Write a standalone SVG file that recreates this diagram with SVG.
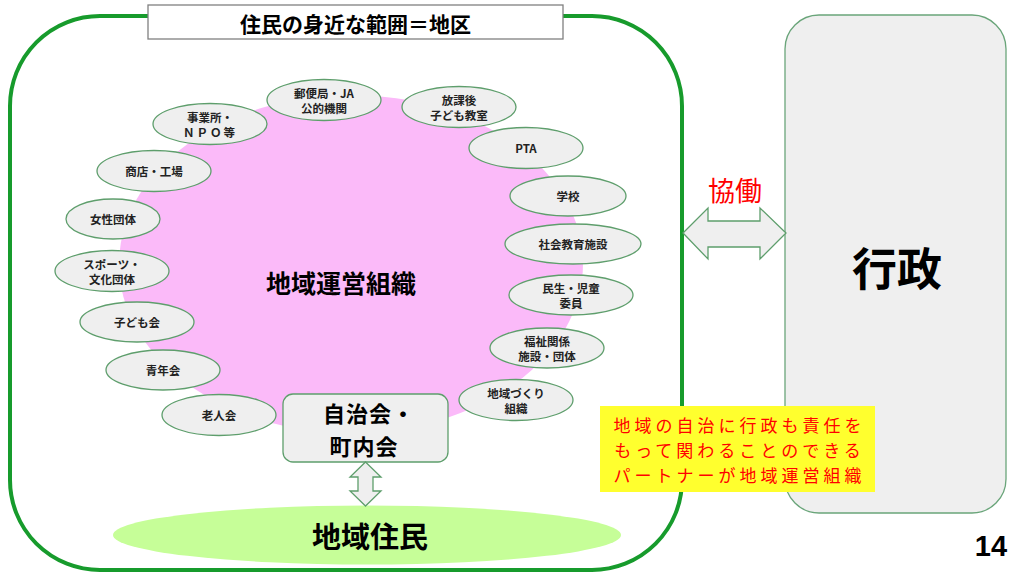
<svg xmlns="http://www.w3.org/2000/svg" width="1024" height="577" viewBox="0 0 1024 577">
<style>
.jp{font-family:"Noto Sans CJK JP","Noto Sans",sans-serif;}
.node ellipse{fill:#efefef;stroke:#5e9e6c;stroke-width:1.3;}
.lbl{font-family:"Noto Sans CJK JP","Noto Sans",sans-serif;font-size:11.5px;font-weight:700;fill:#222;text-anchor:middle;dominant-baseline:central;}
.arrow{fill:#efefef;stroke:#5e9e6c;stroke-width:1.3;}
</style>
<rect width="1024" height="577" fill="#ffffff"/>
<g id="frame">
<rect x="10" y="16" width="672" height="554" rx="90" ry="90" fill="#ffffff" stroke="#179b2c" stroke-width="4"/>
</g>
<g id="title">
<rect x="148" y="5" width="415" height="34" fill="#ffffff" stroke="#808080" stroke-width="1.3"/>
<text x="355.5" y="23" class="jp" font-size="21" font-weight="700" text-anchor="middle" dominant-baseline="central" fill="#000">住民の身近な範囲＝地区</text>
</g>
<g id="chiiki-uneisoshiki">
<ellipse cx="351" cy="264" rx="232" ry="169" fill="#fbbaf9"/>
<text x="341" y="282" class="jp" font-size="25" font-weight="700" text-anchor="middle" dominant-baseline="central" fill="#000">地域運営組織</text>
</g>
<g id="n-yubin" class="node"><ellipse cx="324" cy="100" rx="57" ry="20.5"/><text class="lbl" x="324" y="93">郵便局・JA</text><text class="lbl" x="324" y="108">公的機関</text></g>
<g id="n-jigyosho" class="node"><ellipse cx="210" cy="124" rx="57" ry="20.5"/><text class="lbl" x="210" y="117">事業所・</text><text class="lbl" x="210" y="132" letter-spacing="2">ＮＰＯ等</text></g>
<g id="n-hokago" class="node"><ellipse cx="459" cy="107" rx="57" ry="20.5"/><text class="lbl" x="459" y="100">放課後</text><text class="lbl" x="459" y="115">子ども教室</text></g>
<g id="n-pta" class="node"><ellipse cx="526" cy="148" rx="57" ry="20.5"/><text class="lbl" x="526" y="148">PTA</text></g>
<g id="n-gakko" class="node"><ellipse cx="568" cy="196" rx="58" ry="20"/><text class="lbl" x="568" y="196">学校</text></g>
<g id="n-shakai" class="node"><ellipse cx="573" cy="244" rx="68" ry="20"/><text class="lbl" x="573" y="244">社会教育施設</text></g>
<g id="n-minsei" class="node"><ellipse cx="571" cy="295" rx="62" ry="20"/><text class="lbl" x="571" y="288">民生・児童</text><text class="lbl" x="571" y="303">委員</text></g>
<g id="n-fukushi" class="node"><ellipse cx="547" cy="348" rx="57" ry="20"/><text class="lbl" x="547" y="341">福祉関係</text><text class="lbl" x="547" y="356">施設・団体</text></g>
<g id="n-chiikizukuri" class="node"><ellipse cx="516" cy="400" rx="57" ry="20.5"/><text class="lbl" x="516" y="393">地域づくり</text><text class="lbl" x="516" y="408">組織</text></g>
<g id="n-shoten" class="node"><ellipse cx="154" cy="171" rx="57" ry="20.5"/><text class="lbl" x="154" y="171">商店・工場</text></g>
<g id="n-josei" class="node"><ellipse cx="113" cy="219" rx="47" ry="20"/><text class="lbl" x="113" y="219">女性団体</text></g>
<g id="n-sports" class="node"><ellipse cx="112" cy="271" rx="57" ry="20.5"/><text class="lbl" x="112" y="264">スポーツ・</text><text class="lbl" x="112" y="279">文化団体</text></g>
<g id="n-kodomokai" class="node"><ellipse cx="137" cy="322" rx="57" ry="20"/><text class="lbl" x="137" y="322">子ども会</text></g>
<g id="n-seinen" class="node"><ellipse cx="163" cy="370" rx="57" ry="20"/><text class="lbl" x="163" y="370">青年会</text></g>
<g id="n-rojin" class="node"><ellipse cx="219" cy="415" rx="57" ry="20.5"/><text class="lbl" x="219" y="415">老人会</text></g>
<g id="n-jichikai">
<rect x="283" y="394" width="165" height="68" rx="10" ry="10" fill="#efefef" stroke="#5e9e6c" stroke-width="1.3"/>
<text x="369" y="412" class="jp" font-size="22" font-weight="700" text-anchor="middle" dominant-baseline="central" fill="#000" letter-spacing="1">自治会・</text>
<text x="364" y="444.5" class="jp" font-size="22" font-weight="700" text-anchor="middle" dominant-baseline="central" fill="#000" letter-spacing="1">町内会</text>
</g>
<g id="n-jumin">
<ellipse cx="367" cy="535" rx="254" ry="29.5" fill="#c6fe98"/>
<text x="370" y="535" class="jp" font-size="29" font-weight="700" text-anchor="middle" dominant-baseline="central" fill="#000">地域住民</text>
</g>
<g id="n-gyosei">
<rect x="785" y="15" width="221" height="498" rx="34" ry="34" fill="#efefef" stroke="#6aa57a" stroke-width="1.3"/>
<text x="897" y="266" class="jp" font-size="45" font-weight="700" text-anchor="middle" dominant-baseline="central" fill="#000">行政</text>
</g>
<g id="connectors">
<polygon class="arrow" points="683,233 708,208 708,221 760,221 760,208 786,233 760,259 760,247 708,247 708,259"/>
<polygon class="arrow" points="365.5,462 381,477 373,477 373,491 381,491 365.5,506 350,491 358,491 358,477 350,477"/>
<text x="735" y="189" class="jp" font-size="27" text-anchor="middle" dominant-baseline="central" fill="#ff0000">協働</text>
</g>
<g id="note">
<rect x="600" y="406" width="275" height="86" fill="#ffff2e"/>
<text x="739.5" y="424.5" class="jp" font-size="17" letter-spacing="4" text-anchor="middle" dominant-baseline="central" fill="#ff0000">地域の自治に行政も責任を</text>
<text x="739.5" y="449.5" class="jp" font-size="17" letter-spacing="4" text-anchor="middle" dominant-baseline="central" fill="#ff0000">もって関わることのできる</text>
<text x="739.5" y="474.5" class="jp" font-size="17" letter-spacing="4" text-anchor="middle" dominant-baseline="central" fill="#ff0000">パートナーが地域運営組織</text>
</g>
<g id="page">
<text x="991" y="546" font-family="'Liberation Sans',Arial,sans-serif" font-size="29" font-weight="700" text-anchor="middle" dominant-baseline="central" fill="#000">14</text>
</g>
</svg>
